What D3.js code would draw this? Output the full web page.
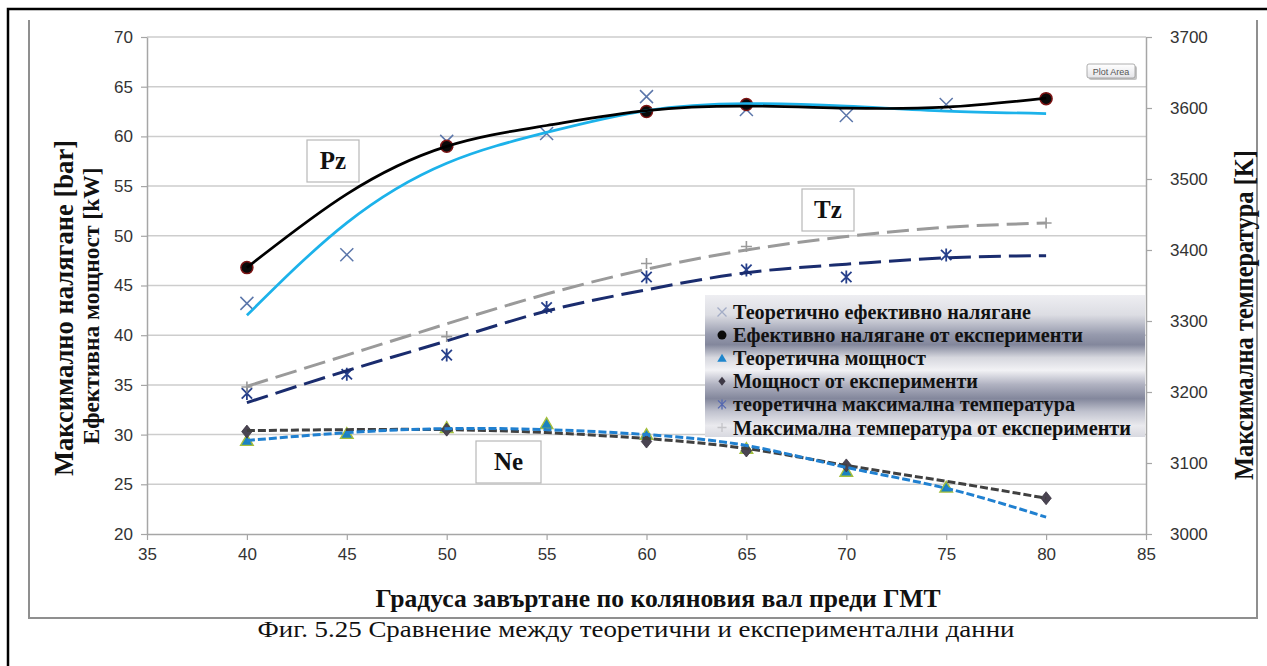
<!DOCTYPE html>
<html>
<head>
<meta charset="utf-8">
<script src="https://cdn.jsdelivr.net/npm/d3@7/dist/d3.min.js"></script>
<style>
  body { margin: 0; background: #fff; }
  svg { display: block; }
</style>
</head>
<body>
<svg id="chart" width="1267" height="666"></svg>
<script>
// ---- data ----
const degrees = [40, 45, 50, 55, 60, 65, 70, 75, 80];
const xTicks = [35, 40, 45, 50, 55, 60, 65, 70, 75, 80, 85];
const leftTicks = [20, 25, 30, 35, 40, 45, 50, 55, 60, 65, 70];
const rightTicks = [3000, 3100, 3200, 3300, 3400, 3500, 3600, 3700];

// Pz – maximum pressure [bar]
const pzTheoryX = [40, 45, 50, 55, 60, 65, 70, 75];
const pzTheory = [43.2, 48.1, 59.5, 60.3, 64.0, 62.7, 62.1, 63.2];
const pzExpX = [40, 50, 60, 65, 80];
const pzExp = [46.8, 59.0, 62.5, 63.2, 63.8];
const pzTheoryTrend = [42.0, 51.3, 57.3, 60.4, 62.6, 63.3, 63.05, 62.55, 62.3];
const pzExpTrend = [46.8, 54.2, 59.0, 61.1, 62.6, 63.05, 62.85, 62.95, 63.85];

// Ne – effective power [kW]
const neTheoryX = [40, 45, 50, 55, 60, 65, 70, 75];
const neTheory = [29.4, 30.1, 30.7, 31.1, 30.0, 28.6, 26.3, 24.7];
const neExpX = [40, 50, 60, 65, 70, 80];
const neExp = [30.3, 30.5, 29.3, 28.4, 26.9, 23.6];
const neTheoryTrend = [29.4, 30.2, 30.6, 30.5, 30.0, 28.9, 26.7, 24.6, 21.7];
const neExpTrend = [30.4, 30.5, 30.5, 30.2, 29.6, 28.6, 26.9, 25.3, 23.6];

// Tz – maximum temperature [K]
const tzTheoryX = [40, 45, 50, 55, 60, 65, 70, 75];
const tzTheory = [3198, 3225, 3252, 3319, 3362, 3372, 3362, 3393];
const tzExpX = [40, 50, 60, 65, 80];
const tzExp = [3207, 3278, 3381, 3405, 3438];
const tzTheoryTrend = [3185, 3230, 3272, 3314, 3344, 3368, 3380, 3389, 3392];
const tzExpTrend = [3208, 3252, 3296, 3338, 3373, 3400, 3419, 3432, 3438];

const legendLabels = [
  "Теоретично ефективно налягане",
  "Ефективно налягане от експерименти",
  "Теоретична мощност",
  "Мощност от експерименти",
  "теоретична максимална температура",
  "Максимална температура от експерименти"
];
const legendWidths = [298, 350, 193, 245, 342, 398];

// ---- layout ----
const svg = d3.select("#chart");
const plot = { left: 147, right: 1146, top: 37, bottom: 534 };
const serif = "'Liberation Serif', 'Times New Roman', serif";
const sans = "'Liberation Sans', Arial, sans-serif";

const x = d3.scaleLinear().domain([35, 85]).range([plot.left, plot.right]);
const yL = d3.scaleLinear().domain([20, 70]).range([plot.bottom, plot.top]);
const yR = d3.scaleLinear().domain([3000, 3700]).range([plot.bottom, plot.top]);

svg.append("rect").attr("width", 1267).attr("height", 666).attr("fill", "#fff");

// outer frame of the figure
svg.append("path").attr("d", "M8,666 V9 H1267")
  .attr("fill", "none").attr("stroke", "#000").attr("stroke-width", 2.5);
// chart area border
svg.append("path").attr("d", "M29,20 V618 H1257 V20")
  .attr("fill", "none").attr("stroke", "#8f8f8f").attr("stroke-width", 2);

// gridlines
svg.append("g").selectAll("line").data(leftTicks.filter(t => t !== 20)).join("line")
  .attr("x1", plot.left).attr("x2", plot.right)
  .attr("y1", d => yL(d)).attr("y2", d => yL(d))
  .attr("stroke", "#cdcdcd").attr("stroke-width", 1.5);

// axes
function styleAxis(g) {
  g.select(".domain").attr("stroke", "#a6a6a6").attr("stroke-width", 1.5);
  g.selectAll(".tick line").attr("stroke", "#a6a6a6").attr("stroke-width", 1.2);
  g.selectAll(".tick text").attr("fill", "#333")
    .attr("font-family", sans).attr("font-size", 17);
}
const fmt = d3.format("d");
svg.append("g").attr("transform", `translate(0,${plot.bottom})`)
  .call(d3.axisBottom(x).tickValues(xTicks).tickFormat(fmt).tickSize(6).tickPadding(8).tickSizeOuter(0))
  .call(styleAxis);
svg.append("g").attr("transform", `translate(${plot.left},0)`)
  .call(d3.axisLeft(yL).tickValues(leftTicks).tickFormat(fmt).tickSize(6).tickPadding(8).tickSizeOuter(0))
  .call(styleAxis);
svg.append("g").attr("transform", `translate(${plot.right},0)`)
  .call(d3.axisRight(yR).tickValues(rightTicks).tickFormat(fmt).tickSize(6).tickPadding(18).tickSizeOuter(0))
  .call(styleAxis);

// ---- markers ----
const zip = (xs, ys) => xs.map((v, i) => [v, ys[i]]);
const crossPath = s => `M${-s},${-s}L${s},${s}M${-s},${s}L${s},${-s}`;
const plusPath = s => `M${-s},0H${s}M0,${-s}V${s}`;
const starPath = s => crossPath(s * 0.8) + `M0,${-s}V${s}`;
const triPath = s => `M0,${-s}L${s * 1.05},${s * 0.8}L${-s * 1.05},${s * 0.8}Z`;
const diamondPath = s => `M0,${-s}L${s * 0.8},0L0,${s}L${-s * 0.8},0Z`;

function markers(data, scale, path, attrs) {
  const sel = svg.append("g").selectAll("path").data(data).join("path")
    .attr("transform", d => `translate(${x(d[0])},${scale(d[1])})`)
    .attr("d", path);
  Object.entries(attrs).forEach(([k, v]) => sel.attr(k, v));
}

markers(zip(pzTheoryX, pzTheory), yL, crossPath(6.5),
  { fill: "none", stroke: "#5b76aa", "stroke-width": 1.5 });
svg.append("g").selectAll("circle").data(zip(pzExpX, pzExp)).join("circle")
  .attr("cx", d => x(d[0])).attr("cy", d => yL(d[1])).attr("r", 6)
  .attr("fill", "#0a0a0a").attr("stroke", "#7c1414").attr("stroke-width", 1.5);
markers(zip(neTheoryX, neTheory), yL, triPath(6),
  { fill: "#1a82c0", stroke: "#a4bf3c", "stroke-width": 1.4 });
markers(zip(neExpX, neExp), yL, diamondPath(6.5),
  { fill: "#4a4452", stroke: "#3a3440", "stroke-width": 0.8 });
markers(zip(tzTheoryX, tzTheory), yR, starPath(6.5),
  { fill: "none", stroke: "#27408b", "stroke-width": 1.8 });
markers(zip(tzExpX, tzExp), yR, plusPath(5.5),
  { fill: "none", stroke: "#9a9a9a", "stroke-width": 1.6 });

// ---- trend lines ----
function trend(values, scale, color, width, dash) {
  const line = d3.line().x(d => x(d[0])).y(d => scale(d[1])).curve(d3.curveNatural);
  svg.append("path").datum(zip(degrees, values)).attr("d", line)
    .attr("fill", "none").attr("stroke", color).attr("stroke-width", width)
    .attr("stroke-dasharray", dash || null).attr("stroke-linecap", "butt");
}
trend(tzExpTrend, yR, "#9a9a9a", 3, "22,8");
trend(tzTheoryTrend, yR, "#1a2c6e", 3, "22,8");
trend(neExpTrend, yL, "#404040", 3, "8,3");
trend(neTheoryTrend, yL, "#2080d0", 3, "8,3");
trend(pzTheoryTrend, yL, "#1cb2ea", 2.7);
trend(pzExpTrend, yL, "#000000", 2.7);

// ---- curve labels ----
function labelBox(x0, y0, w, h, text) {
  svg.append("rect").attr("x", x0).attr("y", y0).attr("width", w).attr("height", h)
    .attr("fill", "#fff").attr("stroke", "#b8b8b8").attr("stroke-width", 1.2);
  svg.append("text").attr("x", x0 + w / 2).attr("y", y0 + h / 2 + 8)
    .attr("text-anchor", "middle").attr("font-family", serif)
    .attr("font-weight", "bold").attr("font-size", 25).attr("fill", "#111").text(text);
}
labelBox(307, 140, 52, 42, "Pz");
labelBox(802, 189, 52, 42, "Tz");
labelBox(476, 441, 65, 42, "Ne");

// ---- legend ----
const defs = svg.append("defs");
const lg = defs.append("linearGradient").attr("id", "legendFill")
  .attr("x1", 0).attr("y1", 0).attr("x2", 0).attr("y2", 1);
[[0, "#eeeef2"], [0.14, "#dcdde3"], [0.28, "#969aad"], [0.35, "#83879c"],
 [0.44, "#d6d7de"], [0.53, "#f2f2f5"], [0.63, "#b0b2c1"], [0.73, "#83879c"],
 [0.82, "#c0c2ce"], [0.92, "#eaeaee"], [1, "#d8d9e0"]]
  .forEach(([o, c]) => lg.append("stop").attr("offset", o).attr("stop-color", c));

const legend = svg.append("g");
legend.append("rect").attr("x", 705).attr("y", 295).attr("width", 440).attr("height", 142)
  .attr("fill", "url(#legendFill)");
const rowY = i => 312 + i * 23.1;
const lx = 722;
legend.append("path").attr("transform", `translate(${lx},${rowY(0)})`).attr("d", crossPath(4.5))
  .attr("fill", "none").attr("stroke", "#a3acc6").attr("stroke-width", 1.3);
legend.append("circle").attr("cx", lx).attr("cy", rowY(1)).attr("r", 4.5).attr("fill", "#0a0a0a");
legend.append("path").attr("transform", `translate(${lx},${rowY(2)})`).attr("d", triPath(4.5))
  .attr("fill", "#1f86cc");
legend.append("path").attr("transform", `translate(${lx},${rowY(3)})`).attr("d", diamondPath(4.5))
  .attr("fill", "#3e3946");
legend.append("path").attr("transform", `translate(${lx},${rowY(4)})`).attr("d", starPath(5))
  .attr("fill", "none").attr("stroke", "#5568b0").attr("stroke-width", 1.3);
legend.append("path").attr("transform", `translate(${lx},${rowY(5)})`).attr("d", plusPath(4.5))
  .attr("fill", "none").attr("stroke", "#c4c4c8").attr("stroke-width", 1.3);
legend.selectAll("text.item").data(legendLabels).join("text").attr("class", "item")
  .attr("x", 733).attr("y", (d, i) => rowY(i) + 7)
  .attr("font-family", serif).attr("font-weight", "bold").attr("font-size", 20)
  .attr("fill", "#111")
  .attr("textLength", (d, i) => legendWidths[i]).attr("lengthAdjust", "spacingAndGlyphs")
  .text(d => d);

// ---- "Plot Area" tag ----
const tg = defs.append("linearGradient").attr("id", "tagFill")
  .attr("x1", 0).attr("y1", 0).attr("x2", 0).attr("y2", 1);
tg.append("stop").attr("offset", 0).attr("stop-color", "#ffffff");
tg.append("stop").attr("offset", 1).attr("stop-color", "#e4e4e8");
svg.append("rect").attr("x", 1089).attr("y", 66).attr("width", 48).attr("height", 14)
  .attr("rx", 2).attr("fill", "#c4c4c4");
svg.append("rect").attr("x", 1087).attr("y", 64).attr("width", 48).attr("height", 14)
  .attr("rx", 2).attr("fill", "url(#tagFill)").attr("stroke", "#9a9a9a").attr("stroke-width", 0.8);
svg.append("text").attr("x", 1111).attr("y", 74.5).attr("text-anchor", "middle")
  .attr("font-family", sans).attr("font-size", 9).attr("fill", "#555").text("Plot Area");

// ---- axis titles & caption ----
svg.append("text").attr("transform", "translate(73,308) rotate(-90)")
  .attr("text-anchor", "middle").attr("font-family", serif).attr("font-weight", "bold")
  .attr("font-size", 28).attr("fill", "#111")
  .attr("textLength", 336).attr("lengthAdjust", "spacingAndGlyphs")
  .text("Максимално налягане [bar]");
svg.append("text").attr("transform", "translate(99,306) rotate(-90)")
  .attr("text-anchor", "middle").attr("font-family", serif).attr("font-weight", "bold")
  .attr("font-size", 24).attr("fill", "#111")
  .attr("textLength", 277).attr("lengthAdjust", "spacingAndGlyphs")
  .text("Ефективна мощност [kW]");
svg.append("text").attr("transform", "translate(1253,315) rotate(-90)")
  .attr("text-anchor", "middle").attr("font-family", serif).attr("font-weight", "bold")
  .attr("font-size", 27).attr("fill", "#111")
  .attr("textLength", 330).attr("lengthAdjust", "spacingAndGlyphs")
  .text("Максимална температура [K]");
svg.append("text").attr("x", 658).attr("y", 607).attr("text-anchor", "middle")
  .attr("font-family", serif).attr("font-weight", "bold").attr("font-size", 25)
  .attr("fill", "#111").attr("textLength", 565).attr("lengthAdjust", "spacingAndGlyphs")
  .text("Градуса завъртане по коляновия вал преди ГМТ");
svg.append("text").attr("x", 636).attr("y", 637).attr("text-anchor", "middle")
  .attr("font-family", serif).attr("font-size", 24).attr("fill", "#111")
  .attr("textLength", 757).attr("lengthAdjust", "spacingAndGlyphs")
  .text("Фиг. 5.25 Сравнение между теоретични и експериментални данни");
</script>
</body>
</html>
